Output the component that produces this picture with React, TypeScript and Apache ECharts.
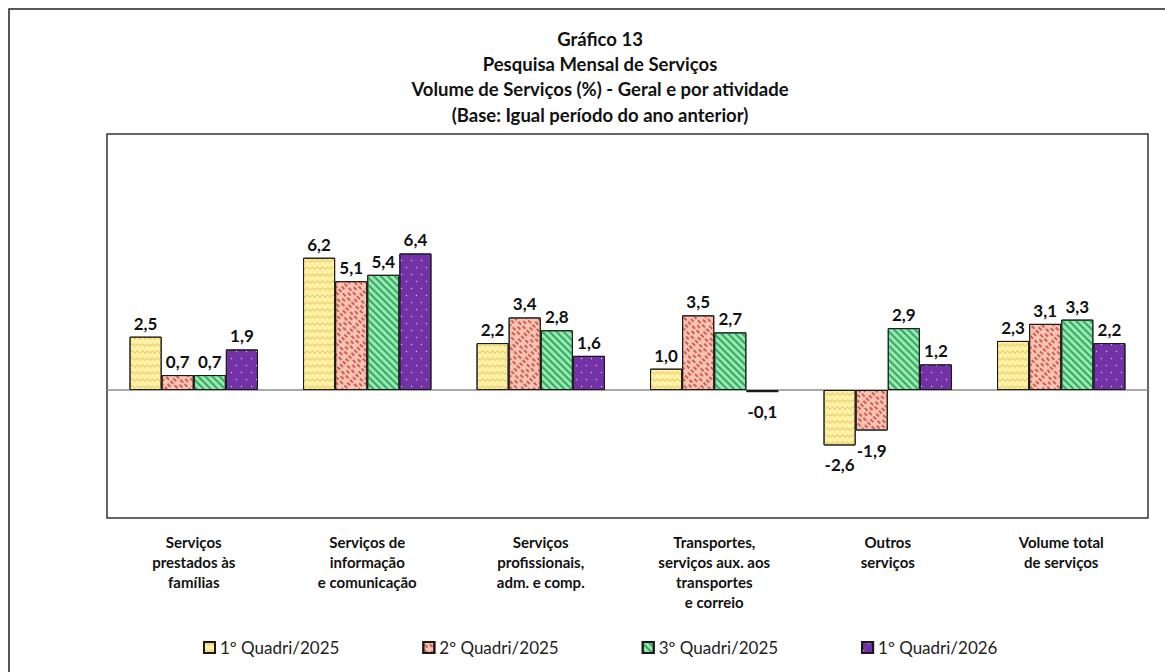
import React, { useEffect, useRef } from "react";
import * as echarts from "echarts";

const categories = [
  "Serviços\nprestados às\nfamílias",
  "Serviços de\ninformação\ne comunicação",
  "Serviços\nprofissionais,\nadm. e comp.",
  "Transportes,\nserviços aux. aos\ntransportes\ne correio",
  "Outros\nserviços",
  "Volume total\nde serviços",
];
const seriesNames = ["1º Quadri/2025", "2º Quadri/2025", "3º Quadri/2025", "1º Quadri/2026"];
const q1_2025 = [2.5, 6.2, 2.2, 1.0, -2.6, 2.3];
const q2_2025 = [0.7, 5.1, 3.4, 3.5, -1.9, 3.1];
const q3_2025 = [0.7, 5.4, 2.8, 2.7, 2.9, 3.3];
const q1_2026 = [1.9, 6.4, 1.6, -0.1, 1.2, 2.2];
const titleLines = [
  "Gráfico 13",
  "Pesquisa Mensal de Serviços",
  "Volume de Serviços (%) - Geral e por atividade",
  "(Base: Igual período do ano anterior)",
];

const FONT = "Lato, 'Liberation Sans', sans-serif";

const styles = [
  {
    color: "#FFF1A6",
    decal: {
      symbol: "path://M0,3 L2.5,0 L5,3 L7.5,0 L10,3 L10,5 L7.5,2 L5,5 L2.5,2 L0,5 Z",
      symbolSize: 1,
      symbolKeepAspect: false,
      color: "#EBCB6A",
      dashArrayX: [[10, 0]],
      dashArrayY: [4, 3],
      rotation: 0,
    },
  },
  {
    color: "#F8C4B6",
    decal: {
      symbol: "rect",
      symbolSize: 1,
      color: "#D2604F",
      dashArrayX: [[4, 2], [0, 3, 4, 2]],
      dashArrayY: [1.5, 2],
      rotation: Math.PI / 4,
    },
  },
  {
    color: "#9BE6B4",
    decal: {
      symbol: "rect",
      symbolSize: 1,
      color: "#2FAE5E",
      dashArrayX: [[1, 0]],
      dashArrayY: [2, 2.5],
      rotation: Math.PI / 4,
    },
  },
  {
    color: "#7232A6",
    decal: {
      symbol: "circle",
      symbolSize: 0.45,
      color: "rgba(235,215,255,0.85)",
      dashArrayX: [[3, 7], [0, 5, 3, 2]],
      dashArrayY: [3, 4],
      rotation: 0,
    },
  },
];

function fmt(v: number) {
  return v.toFixed(1).replace(".", ",");
}

export default function App() {
  const ref = useRef<HTMLDivElement>(null);
  useEffect(() => {
    if (!ref.current) return;
    const chart = echarts.init(ref.current, null, { renderer: "svg" });
    const all = [q1_2025, q2_2025, q3_2025, q1_2026];
    const series = all.map((vals, i) => ({
      name: seriesNames[i],
      type: "bar",
      barGap: "0%",
      barCategoryGap: "26%",
      itemStyle: {
        color: styles[i].color,
        decal: styles[i].decal,
        borderColor: "#1a1a1a",
        borderWidth: 1,
      },
      label: {
        show: true,
        fontFamily: FONT,
        fontWeight: "bold",
        fontSize: 17,
        color: "#111",
        formatter: (p: any) => fmt(p.value),
      },
      data: vals.map((v) => ({
        value: v,
        label: { position: v < 0 ? "bottom" : "top", distance: v < 0 ? 11 : 5 },
      })),
      markLine:
        i === 0
          ? {
              silent: true,
              symbol: "none",
              label: { show: false },
              lineStyle: { color: "#8c8c8c", width: 1.5, type: "solid" },
              data: [{ yAxis: 0 }],
              z: 1,
            }
          : undefined,
    }));
    chart.setOption({
      animation: false,
      backgroundColor: "#fff",
      title: {
        text: titleLines.join("\n"),
        left: 595,
        textAlign: "center",
        top: 21,
        textStyle: {
          fontFamily: FONT,
          fontWeight: "bold",
          fontSize: 18.5,
          lineHeight: 25.3,
          color: "#111",
        },
      },
      legend: {
        top: 634,
        left: 198,
        icon: "rect",
        itemWidth: 11,
        itemHeight: 11,
        itemGap: 83,
        textStyle: { fontFamily: FONT, fontSize: 17, color: "#222" },
        data: seriesNames,
      },
      grid: {
        left: 107,
        top: 134,
        right: 17,
        bottom: 154,
        show: true,
        borderColor: "#333",
        borderWidth: 1.5,
        containLabel: false,
      },
      xAxis: {
        type: "category",
        data: categories,
        axisLine: { show: false, onZero: false },
        axisTick: { show: false },
        axisLabel: {
          interval: 0,
          margin: 14,
          fontFamily: FONT,
          fontWeight: "bold",
          fontSize: 15,
          lineHeight: 20,
          color: "#111",
        },
      },
      yAxis: {
        type: "value",
        min: -6,
        max: 12,
        interval: 2,
        show: true,
        axisLine: { show: false },
        axisTick: { show: false },
        axisLabel: { show: false },
        splitLine: { show: false },
      },
      graphic: [
        {
          type: "rect",
          shape: { x: 9, y: 9, width: 1300, height: 800 },
          style: { fill: "none", stroke: "#222", lineWidth: 1.5 },
          silent: true,
        },
      ],
      series,
    });
    return () => chart.dispose();
  }, []);
  return (
    <div
      ref={ref}
      style={{ position: "fixed", left: 0, top: 0, width: 1165, height: 672, background: "#fff" }}
    />
  );
}
